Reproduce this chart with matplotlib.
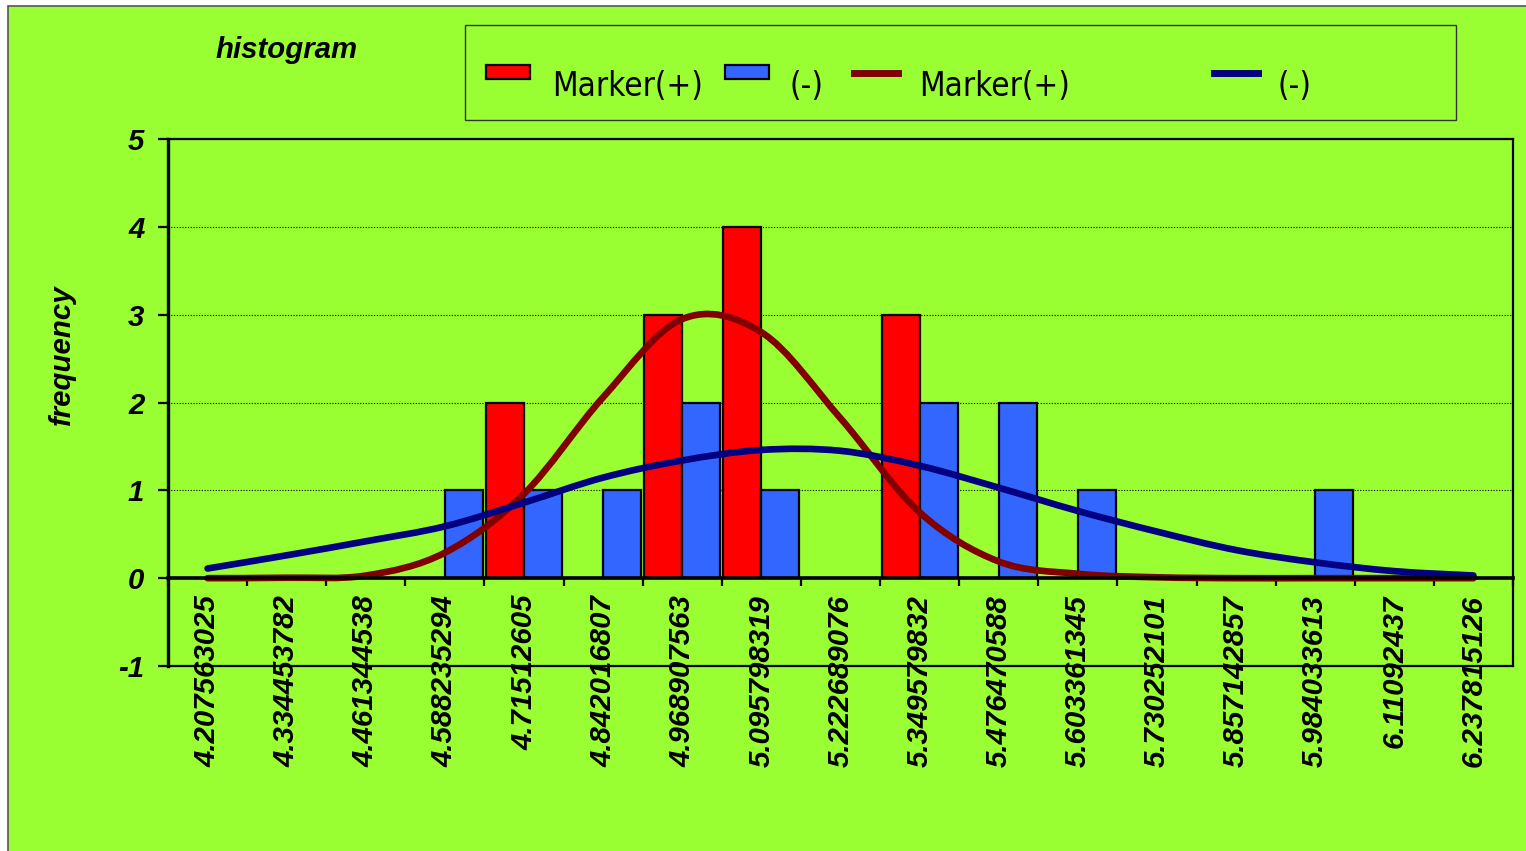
import numpy as np
import matplotlib
matplotlib.use('Agg')
import matplotlib.pyplot as plt
from matplotlib.path import Path
from matplotlib.patches import PathPatch, Rectangle
from matplotlib.lines import Line2D

# data
bins = ['4.207563025', '4.334453782', '4.461344538', '4.588235294', '4.71512605',
        '4.842016807', '4.968907563', '5.095798319', '5.222689076', '5.349579832',
        '5.476470588', '5.603361345', '5.730252101', '5.857142857', '5.984033613',
        '6.11092437', '6.237815126']
freq_pos = [0, 0, 0, 0, 2, 0, 3, 4, 0, 3, 0, 0, 0, 0, 0, 0, 0]
freq_neg = [0, 0, 0, 1, 1, 1, 2, 1, 0, 2, 2, 1, 0, 0, 1, 0, 0]
fit_pos = [0.0, 0.005, 0.03, 0.29, 0.96, 2.06, 2.95, 2.80, 1.82, 0.75, 0.19,
           0.05, 0.01, 0.0, 0.0, 0.0, 0.0]
fit_neg = [0.11, 0.26, 0.42, 0.59, 0.86, 1.145, 1.34, 1.46, 1.45, 1.28, 1.03,
           0.765, 0.53, 0.32, 0.18, 0.08, 0.03]
yticks = [-1, 0, 1, 2, 3, 4, 5]

GREEN = '#99FF33'
RED = '#FF0000'
BLUE = '#3366FF'
DARKRED = '#800000'
NAVY = '#000080'

W, H = 1526, 851
FS = 21.2


def px(x, y):
    # pixel position -> figure fraction
    return x / W, 1 - y / H


def smooth_path(xs, ys):
    # Catmull-Rom as cubic bezier, close to Excel's smoothed line
    pts = np.column_stack([xs, ys]).astype(float)
    p = np.vstack([pts[0], pts, pts[-1]])
    verts = [pts[0]]
    codes = [Path.MOVETO]
    for i in range(1, len(p) - 2):
        c1 = p[i] + (p[i + 1] - p[i - 1]) / 6
        c2 = p[i + 1] - (p[i + 2] - p[i]) / 6
        verts += [c1, c2, p[i + 1]]
        codes += [Path.CURVE4] * 3
    return Path(verts, codes)


plt.rcParams['font.family'] = ['Liberation Sans', 'DejaVu Sans']

fig = plt.figure(figsize=(W / 100, H / 100), dpi=100, facecolor='white')
fig.add_artist(Rectangle(px(8, 851 + 20), 1.2, (851 + 20 - 6) / H,
                         transform=fig.transFigure, facecolor=GREEN,
                         edgecolor='#555555', linewidth=1.2, zorder=0))

ax = fig.add_axes([168 / W, 1 - 666 / H, (1513 - 168) / W, (666 - 139) / H])
ax.set_facecolor('none')

x = np.arange(len(bins))
bw = 0.48
ax.bar(x - bw / 2, freq_pos, width=bw, color=RED, edgecolor='black',
       linewidth=1.6, zorder=3)
ax.bar(x + bw / 2, freq_neg, width=bw, color=BLUE, edgecolor='black',
       linewidth=1.6, zorder=3)

ax.add_patch(PathPatch(smooth_path(x, fit_pos), facecolor='none',
                       edgecolor=DARKRED, linewidth=4.8, capstyle='round',
                       zorder=4))
ax.add_patch(PathPatch(smooth_path(x, fit_neg), facecolor='none',
                       edgecolor=NAVY, linewidth=4.8, capstyle='round',
                       zorder=5))

ax.set_xlim(-0.5, len(bins) - 0.5)
ax.set_ylim(-1, 5)

# axes frame like excel: category axis crosses at 0
ax.spines['bottom'].set_position(('data', 0))
ax.spines['bottom'].set_linewidth(2.6)
ax.spines['left'].set_linewidth(2.4)
ax.spines['top'].set_linewidth(1.6)
ax.spines['right'].set_linewidth(1.6)
for s in ax.spines.values():
    s.set_zorder(6)
ax.axhline(-1, color='black', linewidth=1.6, clip_on=False, zorder=6)

ax.set_yticks(yticks)
ax.set_yticklabels([str(v) for v in yticks], fontsize=FS,
                   fontweight='bold', fontstyle='italic')
ax.tick_params(axis='y', direction='out', length=7, width=1.6, pad=10)
ax.yaxis.grid(True, linestyle=(0, (1, 1.5)), color='black', linewidth=0.8)
ax.set_axisbelow(True)

ax.set_xticks(x)
ax.set_xticklabels(bins, rotation=90, fontsize=FS, fontweight='bold',
                   fontstyle='italic')
ax.set_xticks(np.arange(-0.5, len(bins)), minor=True)
ax.tick_params(axis='x', which='major', length=0, pad=12)
ax.tick_params(axis='x', which='minor', direction='out', length=6, width=1.6)

fig.text(*px(287, 50), 'histogram', fontsize=FS, fontweight='bold',
         fontstyle='italic', ha='center', va='center')
fig.text(*px(62, 355), 'frequency', fontsize=FS, fontweight='bold',
         fontstyle='italic', rotation=90, ha='center', va='center')

# legend drawn by hand (excel spaces its entries unevenly)
fig.add_artist(Rectangle(px(465, 120), (1456 - 465) / W, (120 - 25) / H,
                         transform=fig.transFigure, facecolor='none',
                         edgecolor='#333333', linewidth=1.0))
leg_font = dict(fontsize=23.8, family='DejaVu Sans', fontstretch='condensed',
                va='baseline', ha='left')
for x0, col in [(486, RED), (725, BLUE)]:
    fig.add_artist(Rectangle(px(x0, 79), 44 / W, 14 / H,
                             transform=fig.transFigure, facecolor=col,
                             edgecolor='black', linewidth=1.6))
for x0, col in [(854, DARKRED), (1214, NAVY)]:
    x1, y1 = px(x0, 72.5)
    x2, _ = px(x0 + 44, 72.5)
    fig.add_artist(Line2D([x1, x2], [y1, y1], transform=fig.transFigure,
                          color=col, linewidth=5))
for x0, lab in [(552, 'Marker(+)'), (790, '(-)'), (919, 'Marker(+)'),
                (1278, '(-)')]:
    fig.text(*px(x0, 96), lab, **leg_font)

fig.savefig('out.png', dpi=100, facecolor=fig.get_facecolor())
